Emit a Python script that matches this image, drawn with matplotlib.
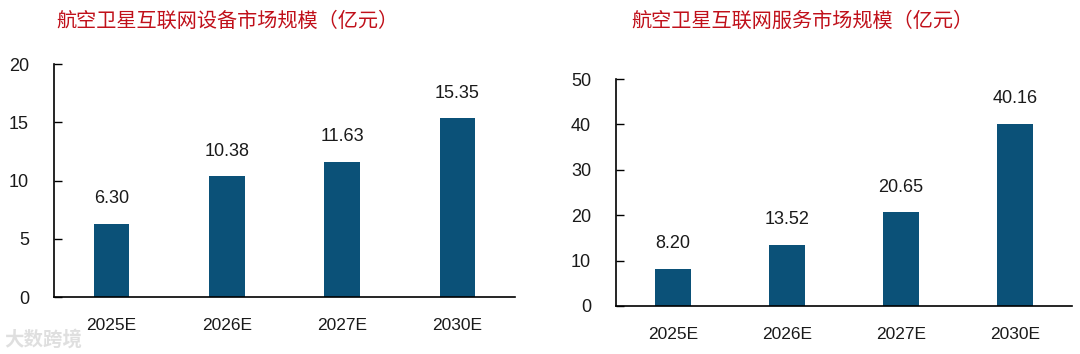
import matplotlib.pyplot as plt

years = ['2025E', '2026E', '2027E', '2030E']
equip = [6.30, 10.38, 11.63, 15.35]
service = [8.20, 13.52, 20.65, 40.16]

title_equip = '航空卫星互联网设备市场规模（亿元）'
title_service = '航空卫星互联网服务市场规模（亿元）'
watermark = '大数跨境'

bar_color = '#0b5178'
title_color = '#c0101a'
text_color = '#1a1a1a'

plt.rcParams['font.family'] = ['Liberation Sans', 'Noto Sans CJK SC']

fig = plt.figure(figsize=(10.8, 3.54), dpi=100)
ax1 = fig.add_axes([0.05, 0.161, 0.4269, 0.658])
ax2 = fig.add_axes([0.5704, 0.1356, 0.4222, 0.6412])


def draw(ax, vals, ymax, step):
    x = range(len(years))
    ax.bar(x, vals, width=0.31, color=bar_color)
    for i, v in enumerate(vals):
        ax.annotate(f'{v:.2f}', (i, v), xytext=(0, 18), textcoords='offset points',
                    ha='center', va='center', fontsize=13, color=text_color)
    ax.set_xlim(-0.5, len(years) - 0.5)
    ax.set_ylim(0, ymax)
    ax.set_yticks(range(0, ymax + 1, step))
    ax.set_xticks(list(x))
    ax.set_xticklabels(years)
    ax.tick_params(axis='x', length=0, pad=15, labelsize=12.5, labelcolor=text_color)
    ax.tick_params(axis='y', direction='in', length=6, width=1, pad=18,
                   labelsize=13, labelcolor=text_color)
    for s in ['top', 'right']:
        ax.spines[s].set_visible(False)
    for s in ['left', 'bottom']:
        ax.spines[s].set_linewidth(1.2)


draw(ax1, equip, 20, 5)
draw(ax2, service, 50, 10)

fig.text(0.211, 0.941, title_equip, ha='center', va='center', fontsize=14.5,
         color=title_color, family=['Noto Sans CJK SC'])
fig.text(0.7426, 0.941, title_service, ha='center', va='center', fontsize=14.5,
         color=title_color, family=['Noto Sans CJK SC'])

# faint watermark bottom-left
fig.text(0.004, 0.04, watermark, ha='left', va='center', fontsize=14,
         weight='bold', color='#d8d8d8', alpha=0.8, zorder=10,
         family=['Noto Sans CJK SC'])

fig.savefig('out.png', dpi=100)
